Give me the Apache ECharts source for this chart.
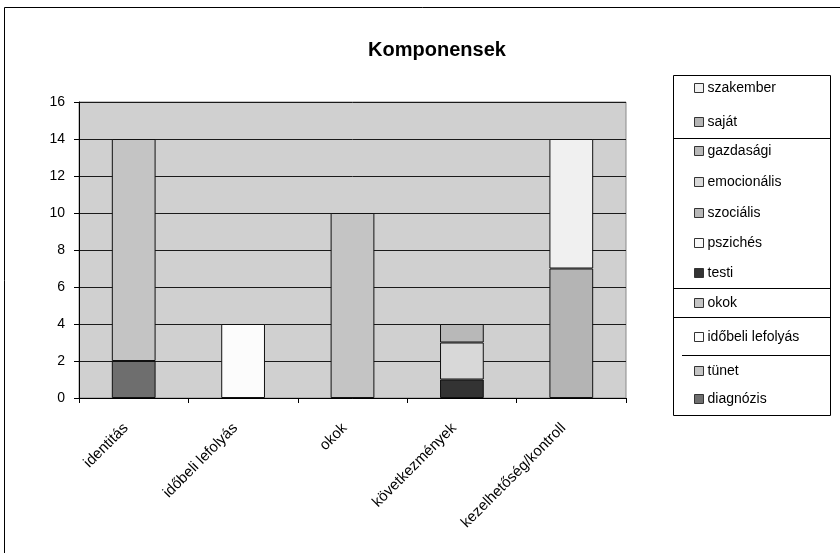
<!DOCTYPE html>
<html>
<head>
<meta charset="utf-8">
<script src="https://cdn.jsdelivr.net/npm/echarts@6/dist/echarts.min.js"></script>
<style>
  html, body { margin: 0; padding: 0; background: #ffffff; }
  #chart { width: 840px; height: 553px; }
</style>
</head>
<body>
<div id="chart"></div>
<script>
// Categories along the x axis
const categories = ['identitás', 'időbeli lefolyás', 'okok', 'következmények', 'kezelhetőség/kontroll'];

// Series values, one number per category (stacked bottom to top)
const diagnozis   = [2, 0, 0, 0, 0];
const tunet       = [12, 0, 0, 0, 0];
const idobeli     = [0, 4, 0, 0, 0];
const okok        = [0, 0, 10, 0, 0];
const testi       = [0, 0, 0, 1, 0];
const pszoches    = [0, 0, 0, 0, 0];
const szocialis   = [0, 0, 0, 0, 0];
const emocionalis = [0, 0, 0, 2, 0];
const gazdasagi   = [0, 0, 0, 1, 0];
const sajat       = [0, 0, 0, 0, 7];
const szakember   = [0, 0, 0, 0, 7];

// Y axis range
const yMin = 0, yMax = 16, yStep = 2;

// Series definitions in stacking order with their fill tones
const seriesDefs = [
  { name: 'diagnózis',        values: diagnozis,   color: '#6e6e6e' },
  { name: 'tünet',            values: tunet,       color: '#c4c4c4' },
  { name: 'időbeli lefolyás', values: idobeli,     color: '#fcfcfc' },
  { name: 'okok',             values: okok,        color: '#c4c4c4' },
  { name: 'testi',            values: testi,       color: '#333333' },
  { name: 'pszichés',         values: pszoches,    color: '#f8f8f8' },
  { name: 'szociális',        values: szocialis,   color: '#b8b8b8' },
  { name: 'emocionális',      values: emocionalis, color: '#d8d8d8' },
  { name: 'gazdasági',        values: gazdasagi,   color: '#b8b8b8' },
  { name: 'saját',            values: sajat,       color: '#b4b4b4' },
  { name: 'szakember',        values: szakember,   color: '#f0f0f0' }
];

// Legend rows (top to bottom) and their vertical centres
const legendOrder = ['szakember', 'saját', 'gazdasági', 'emocionális', 'szociális',
  'pszichés', 'testi', 'okok', 'időbeli lefolyás', 'tünet', 'diagnózis'];
const legendRowY = [88, 122, 151, 182, 213, 243, 273, 303, 337, 371, 399];

const FONT = '"Liberation Sans", Arial, sans-serif';

const series = seriesDefs.map(d => ({
  name: d.name,
  type: 'bar',
  stack: 'total',
  barWidth: '40%',
  data: d.values.map(v => (v === 0 ? '-' : v)),
  itemStyle: { color: d.color, borderColor: '#111', borderWidth: 1 },
  emphasis: { disabled: true }
}));

const legends = legendOrder.map((name, i) => ({
  data: [name],
  left: 694,
  top: legendRowY[i] - 7,
  padding: 0,
  icon: 'rect',
  itemWidth: 9,
  itemHeight: 9,
  itemGap: 0,
  selectedMode: false,
  itemStyle: { borderColor: '#333', borderWidth: 1 },
  textStyle: { fontFamily: FONT, fontSize: 14, color: '#000', padding: [0, 0, 0, -1] }
}));

const chart = echarts.init(document.getElementById('chart'), null, { renderer: 'canvas' });

chart.setOption({
  animation: false,
  backgroundColor: '#ffffff',
  title: {
    text: 'Komponensek',
    left: 432,
    top: 35,
    textAlign: 'center',
    textStyle: { fontFamily: FONT, fontSize: 20, fontWeight: 'bold', color: '#000' }
  },
  legend: legends,
  grid: {
    left: 79,
    right: 214,
    top: 102,
    bottom: 155,
    show: true,
    backgroundColor: '#d0d0d0',
    borderColor: '#8a8a8a',
    borderWidth: 1
  },
  xAxis: {
    type: 'category',
    data: categories,
    axisLine: { show: true, lineStyle: { color: '#000', width: 1 } },
    axisTick: { show: true, length: 5, alignWithLabel: false, lineStyle: { color: '#000' } },
    axisLabel: {
      interval: 0,
      rotate: 45,
      margin: 20,
      padding: [0, 11, 0, 0],
      fontFamily: FONT,
      fontSize: 15,
      color: '#000'
    },
    splitLine: { show: false }
  },
  yAxis: {
    type: 'value',
    min: yMin,
    max: yMax,
    interval: yStep,
    axisLine: { show: true, lineStyle: { color: '#000', width: 1 } },
    axisTick: { show: true, length: 5, lineStyle: { color: '#000' } },
    axisLabel: { margin: 14, fontFamily: FONT, fontSize: 14, color: '#000' },
    splitLine: { show: true, lineStyle: { color: '#1a1a1a', width: 1 } }
  },
  graphic: [
    // outer chart frame
    { type: 'rect', z: 100, silent: true,
      shape: { x: 4.5, y: 7.5, width: 1000, height: 1000 },
      style: { fill: 'none', stroke: '#000', lineWidth: 1 } },
    // legend box
    { type: 'rect', z: 100, silent: true,
      shape: { x: 673.5, y: 75.5, width: 157, height: 340 },
      style: { fill: 'none', stroke: '#000', lineWidth: 1 } },
    // separators inside the legend box
    { type: 'line', z: 100, silent: true,
      shape: { x1: 674, y1: 138.5, x2: 831, y2: 138.5 }, style: { stroke: '#000', lineWidth: 1 } },
    { type: 'line', z: 100, silent: true,
      shape: { x1: 674, y1: 288.5, x2: 831, y2: 288.5 }, style: { stroke: '#000', lineWidth: 1 } },
    { type: 'line', z: 100, silent: true,
      shape: { x1: 674, y1: 317.5, x2: 831, y2: 317.5 }, style: { stroke: '#000', lineWidth: 1 } },
    { type: 'line', z: 100, silent: true,
      shape: { x1: 682, y1: 355.5, x2: 831, y2: 355.5 }, style: { stroke: '#000', lineWidth: 1 } }
  ],
  series: series
});
</script>
</body>
</html>
